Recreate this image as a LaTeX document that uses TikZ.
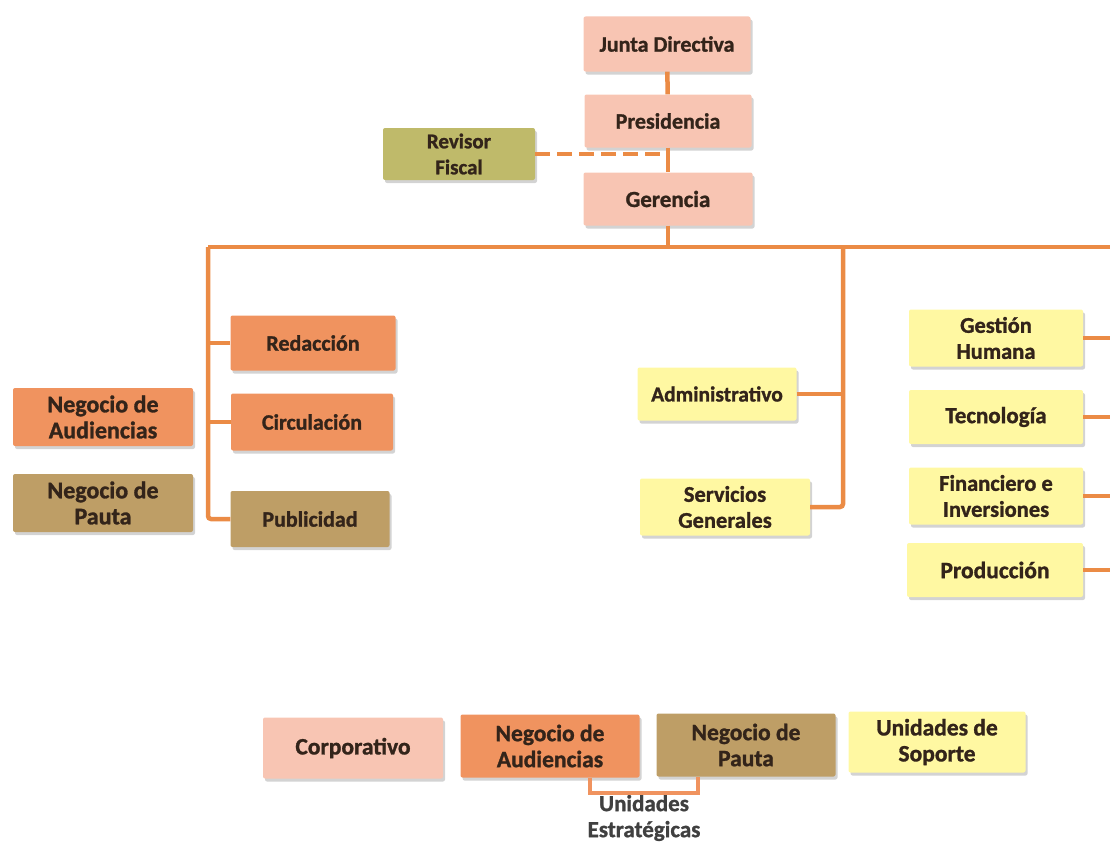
\documentclass[tikz,border=0pt]{standalone}
\usepackage{fontspec}
\setmainfont{Carlito}[BoldFeatures={FakeBold=1.2}]
\usetikzlibrary{shadows}

\definecolor{corp}{HTML}{F8C5B3}
\definecolor{aud}{HTML}{F0935F}
\definecolor{pauta}{HTML}{BE9E66}
\definecolor{soporte}{HTML}{FFF8A2}
\definecolor{revisor}{HTML}{BFBA6A}
\definecolor{linea}{HTML}{EB8B45}
\definecolor{texto}{HTML}{33241A}

\newcommand{\tam}[1]{\fontsize{#1}{26}\selectfont\bfseries}

\tikzset{
	unidad/.style={rectangle, rounded corners=2pt, align=center, text=texto,
		font=\tam{22},
		drop shadow={shadow xshift=2pt, shadow yshift=-3pt, opacity=.35, fill=gray}},
	link/.style={draw=linea, line width=4.5pt, rounded corners=3pt},
}

\begin{document}
\begin{tikzpicture}[x=1pt, y=-1pt]
			\useasboundingbox (0,0) rectangle (1110,851);
			% direccion
			\node[unidad, fill=corp, minimum width=167pt, minimum height=55pt] (junta) at (667,44) {Junta Directiva};
			\node[unidad, fill=corp, minimum width=167pt, minimum height=53pt] (presi) at (668,121) {Presidencia};
			\node[unidad, fill=corp, minimum width=169pt, minimum height=53pt, font=\tam{23}] (geren) at (668,199) {Gerencia};
			\node[unidad, fill=revisor, minimum width=152pt, minimum height=52pt, font=\tam{21}] (rev) at (459,154) {Revisor\\Fiscal};
			\draw[link] (junta) -- (presi);
			\draw[link] (presi) -- (geren);
			\draw[link, dash pattern=on 15pt off 7pt, rounded corners=0pt] (rev.east) -- (rev.east -| presi.south);
			% barra principal
			\coordinate (busL) at (208,247);
			\coordinate (busC) at (668,247);
			\coordinate (busM) at (843,247);
			\coordinate (busR) at (1110,247);
			\draw[link] (geren) -- (busC);
			\draw[link] (busL) -- (busR);
			% negocios
			\node[unidad, fill=aud, minimum width=165pt, minimum height=55pt] (redac) at (313,343) {Redacción};
			\node[unidad, fill=aud, minimum width=162pt, minimum height=57pt] (circ) at (312,422) {Circulación};
			\node[unidad, fill=pauta, minimum width=159pt, minimum height=56pt] (publ) at (310,519) {Publicidad};
			\node[unidad, fill=aud, minimum width=180pt, minimum height=58pt, font=\tam{24}] (negaud) at (103,417) {Negocio de\\Audiencias};
			\node[unidad, fill=pauta, minimum width=180pt, minimum height=58pt, font=\tam{24}] (negpau) at (103,503) {Negocio de\\Pauta};
			\draw[link] (busL) |- (publ.west);
			\draw[link] (redac.west) -- (redac.west -| busL);
			\draw[link] (circ.west) -- (circ.west -| busL);
			% soporte
			\node[unidad, fill=soporte, minimum width=159pt, minimum height=53pt, font=\tam{21.5}] (admin) at (717,394) {Administrativo};
			\node[unidad, fill=soporte, minimum width=170pt, minimum height=57pt, font=\tam{22.5}] (serv) at (725,507) {Servicios\\Generales};
			\draw[link] (busM) |- (serv.east);
			\draw[link] (admin.east) -- (admin.east -| busM);
			\node[unidad, fill=soporte, minimum width=174pt, minimum height=57pt, font=\tam{22.5}] (gest) at (996,338) {Gestión\\Humana};
			\node[unidad, fill=soporte, minimum width=174pt, minimum height=54pt, font=\tam{23}] (tecno) at (996,417) {Tecnología};
			\node[unidad, fill=soporte, minimum width=174pt, minimum height=57pt, font=\tam{22.5}] (finan) at (996,496) {Financiero e\\Inversiones};
			\node[unidad, fill=soporte, minimum width=176pt, minimum height=54pt, font=\tam{23.5}] (prod) at (995,570) {Producción};
			\foreach \u in {gest,tecno,finan,prod}
				\draw[link] (\u.east) -- (\u.east -| busR);
			% convenciones
			\node[unidad, fill=corp, minimum width=180pt, minimum height=61pt, font=\tam{23.5}] (lcorp) at (353,748) {Corporativo};
			\node[unidad, fill=aud, minimum width=179pt, minimum height=63pt, font=\tam{23.5}] (laud) at (550,746) {Negocio de\\Audiencias};
			\node[unidad, fill=pauta, minimum width=179pt, minimum height=63pt, font=\tam{23.5}] (lpau) at (746,745) {Negocio de\\Pauta};
			\node[unidad, fill=soporte, minimum width=177pt, minimum height=61pt, font=\tam{23.5}] (lsop) at (937,742) {Unidades de\\Soporte};
			\node[align=center, text=black!75, font=\tam{23}, inner sep=2pt] (estrat) at (644,818) {Unidades\\Estratégicas};
			\draw[link, draw=aud, rounded corners=0pt] ([xshift=40pt]laud.south) |- (estrat.north) -| ([xshift=-48pt]lpau.south);
		\end{tikzpicture}
\end{document}
